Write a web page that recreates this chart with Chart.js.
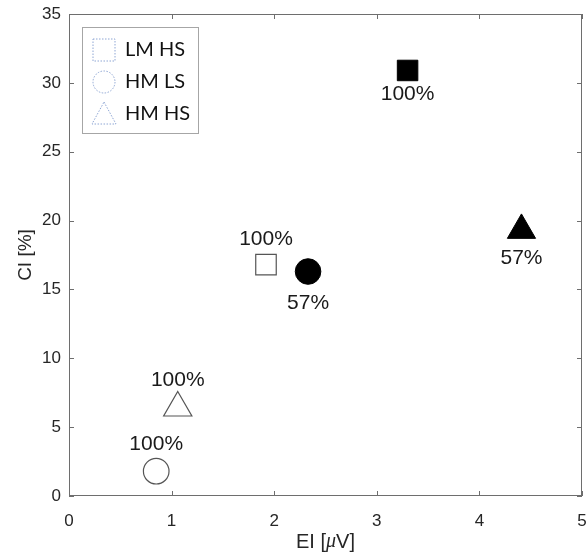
<!DOCTYPE html>
<html>
<head>
<meta charset="utf-8">
<script src="https://cdn.jsdelivr.net/npm/chart.js@4"></script>
<style>
  html, body { margin: 0; padding: 0; background: #fff; }
  #wrap { width: 586px; height: 560px; }
</style>
</head>
<body>
<div id="wrap"><canvas id="chart" width="586" height="560"></canvas></div>
<script>
// valores
const grupos = ["LM HS", "HM LS", "HM HS"];
const formas = ["rect", "circle", "triangle"];

// marcadores vacios (etiqueta arriba)
const elVacio = [1.92, 0.85, 1.06];
const ciVacio = [16.8, 1.8, 6.4];
const pctVacio = ["100%", "100%", "100%"];

// marcadores llenos (etiqueta abajo)
const elLleno = [3.30, 2.33, 4.41];
const ciLleno = [30.9, 16.3, 19.3];
const pctLleno = ["100%", "57%", "57%"];

const ticksX = [0, 1, 2, 3, 4, 5];
const ticksY = [0, 5, 10, 15, 20, 25, 30, 35];

// tamaños y desplazamientos de etiquetas por forma
const radio = { rect: 14.5, circle: 12.8, triangle: 16.3 };
const dyArriba = { rect: -25, circle: -27, triangle: -28 };
const dyAbajo = { rect: 24, circle: 32, triangle: 28 };

const ejeColor = "#6e6e6e";
const textoColor = "#262626";

const datasets = [];
grupos.forEach((g, i) => {
  const f = formas[i];
  datasets.push({
    label: g,
    data: [{ x: elVacio[i], y: ciVacio[i] }],
    etiquetas: [pctVacio[i]],
    dy: dyArriba[f],
    pointStyle: f,
    pointRadius: radio[f],
    backgroundColor: "#ffffff",
    borderColor: "#555555",
    borderWidth: 1.2,
    clip: false
  });
  datasets.push({
    label: g + " (lleno)",
    data: [{ x: elLleno[i], y: ciLleno[i] }],
    etiquetas: [pctLleno[i]],
    dy: dyAbajo[f],
    pointStyle: f,
    pointRadius: radio[f],
    backgroundColor: "#000000",
    borderColor: "#000000",
    borderWidth: 1,
    clip: false
  });
});

const decoracion = {
  id: "decoracion",
  afterDatasetsDraw(chart) {
    const ctx = chart.ctx;
    ctx.save();
    ctx.font = "21px 'Liberation Sans', Arial, sans-serif";
    ctx.fillStyle = "#1a1a1a";
    ctx.textAlign = "center";
    ctx.textBaseline = "middle";
    chart.data.datasets.forEach((ds, di) => {
      const meta = chart.getDatasetMeta(di);
      meta.data.forEach((pt, j) => {
        ctx.fillText(ds.etiquetas[j], pt.x, pt.y + ds.dy);
      });
    });
    ctx.restore();
  },
  afterDraw(chart) {
    const ctx = chart.ctx;
    const a = chart.chartArea;
    const sx = chart.scales.x, sy = chart.scales.y;
    ctx.save();
    // caja y marcas hacia dentro
    ctx.strokeStyle = ejeColor;
    ctx.lineWidth = 1;
    ctx.strokeRect(a.left + 0.5, a.top + 0.5, a.right - a.left - 1, a.bottom - a.top - 1);
    ctx.beginPath();
    ticksX.forEach(v => {
      const px = Math.round(sx.getPixelForValue(v)) + 0.5;
      ctx.moveTo(px, a.bottom); ctx.lineTo(px, a.bottom - 5);
      ctx.moveTo(px, a.top); ctx.lineTo(px, a.top + 5);
    });
    ticksY.forEach(v => {
      const py = Math.round(sy.getPixelForValue(v)) + 0.5;
      ctx.moveTo(a.left, py); ctx.lineTo(a.left + 5, py);
      ctx.moveTo(a.right, py); ctx.lineTo(a.right - 5, py);
    });
    ctx.stroke();

    // titulo eje x con mu en cursiva
    const partes = [
      ["EI [", "20px 'Liberation Sans', Arial, sans-serif"],
      ["\u03bc", "italic 20px 'Liberation Serif', 'Times New Roman', serif"],
      ["V]", "20px 'Liberation Sans', Arial, sans-serif"]
    ];
    let ancho = 0;
    partes.forEach(p => { ctx.font = p[1]; ancho += ctx.measureText(p[0]).width; });
    let x0 = (a.left + a.right) / 2 - ancho / 2;
    ctx.fillStyle = textoColor;
    ctx.textAlign = "left";
    ctx.textBaseline = "middle";
    partes.forEach(p => {
      ctx.font = p[1];
      ctx.fillText(p[0], x0, 542);
      x0 += ctx.measureText(p[0]).width;
    });

    // leyenda
    const lx = a.left + 13, ly = a.top + 13, lw = 116, lh = 106;
    ctx.fillStyle = "#ffffff";
    ctx.fillRect(lx, ly, lw, lh);
    ctx.strokeStyle = "#a6a6a6";
    ctx.lineWidth = 1;
    ctx.strokeRect(lx + 0.5, ly + 0.5, lw, lh);
    grupos.forEach((g, i) => {
      const cy = ly + 23 + i * 32;
      const cx = lx + 22;
      ctx.save();
      ctx.setLineDash([1.5, 1.5]);
      ctx.strokeStyle = "#8ea6d4";
      ctx.lineWidth = 1;
      ctx.beginPath();
      if (formas[i] === "rect") {
        ctx.rect(cx - 11, cy - 11, 22, 22);
      } else if (formas[i] === "circle") {
        ctx.arc(cx, cy, 11, 0, Math.PI * 2);
      } else {
        ctx.moveTo(cx, cy - 12);
        ctx.lineTo(cx + 12, cy + 10);
        ctx.lineTo(cx - 12, cy + 10);
        ctx.closePath();
      }
      ctx.stroke();
      ctx.restore();
      ctx.font = "20px Lato, 'Open Sans', sans-serif";
      ctx.fillStyle = "#111111";
      ctx.textAlign = "left";
      ctx.textBaseline = "middle";
      ctx.fillText(g, lx + 43, cy);
    });
    ctx.restore();
  }
};

new Chart(document.getElementById("chart"), {
  type: "scatter",
  data: { datasets: datasets },
  options: {
    responsive: false,
    animation: false,
    events: [],
    layout: { autoPadding: false, padding: { top: 14, right: 4, left: 0, bottom: 0 } },
    plugins: {
      legend: { display: false },
      tooltip: { enabled: false }
    },
    scales: {
      x: {
        type: "linear",
        min: 0,
        max: 5,
        afterBuildTicks: s => { s.ticks = ticksX.map(v => ({ value: v })); },
        afterFit: s => { s.height = 64; s.paddingLeft = 0; s.paddingRight = 0; },
        grid: { display: false, drawTicks: false },
        border: { display: false },
        ticks: {
          padding: 15,
          color: textoColor,
          font: { family: "'Liberation Sans', Arial, sans-serif", size: 17 }
        }
      },
      y: {
        type: "linear",
        min: 0,
        max: 35,
        afterBuildTicks: s => { s.ticks = ticksY.map(v => ({ value: v })); },
        afterFit: s => { s.width = 69; s.paddingTop = 0; s.paddingBottom = 0; },
        grid: { display: false, drawTicks: false },
        border: { display: false },
        ticks: {
          padding: 8,
          color: textoColor,
          font: { family: "'Liberation Sans', Arial, sans-serif", size: 17 }
        },
        title: {
          display: true,
          text: "CI [%]",
          color: textoColor,
          padding: { top: 14 },
          font: { family: "'Liberation Sans', Arial, sans-serif", size: 19 }
        }
      }
    }
  },
  plugins: [decoracion]
});
</script>
</body>
</html>
